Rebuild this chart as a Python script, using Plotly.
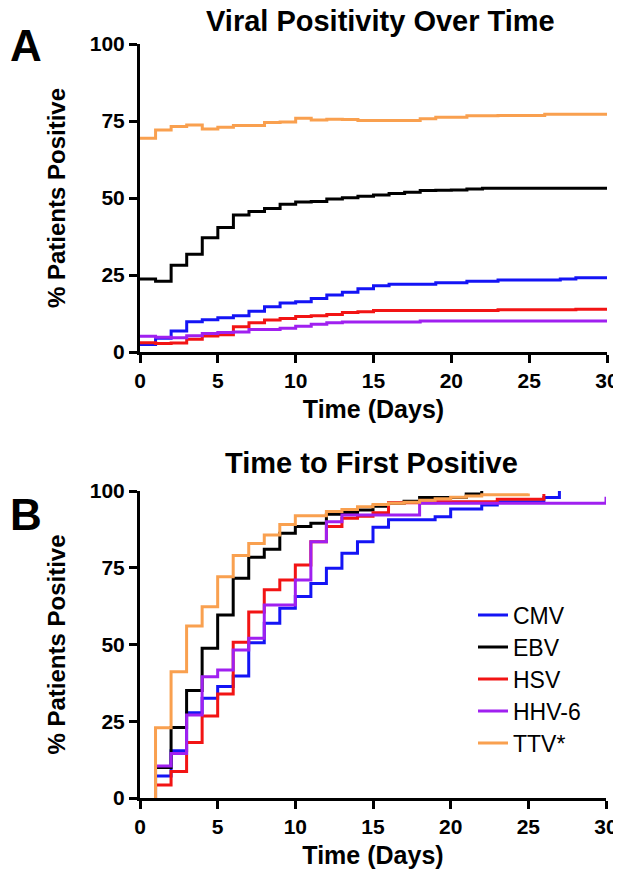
import plotly.graph_objects as go

# window is 621x876; the page body has an 8px margin, so the figure is sized to fit inside it
WIN_OFF = 8
W, H = 613, 868

# ---------------- data ----------------
virus_names = ["CMV", "EBV", "HSV", "HHV-6", "TTV*"]
virus_colors = ["#1414f5", "#000000", "#f21414", "#a020f0", "#f9a04f"]

# Panel A: % positive by day (0..30)
days_A = list(range(0, 31))
cmv_A = [2.4, 4.5, 6.8, 9.8, 10.5, 11.1, 11.8, 13.2, 14.7, 15.9, 16.3, 17.4, 18.5, 19.4, 20.5, 21.5,
         22.0, 22.0, 22.0, 22.5, 22.5, 23.0, 23.0, 23.4, 23.4, 23.4, 23.4, 23.7, 24.1, 24.1, 24.1]
ebv_A = [23.7, 23.0, 28.2, 31.7, 37.1, 40.4, 44.5, 45.6, 46.6, 48.0, 48.7, 48.9, 49.7, 50.1, 50.6, 51.0,
         51.5, 51.9, 52.4, 52.5, 52.6, 52.9, 53.2, 53.2, 53.2, 53.2, 53.2, 53.2, 53.2, 53.2, 53.2]
hsv_A = [3.0, 2.8, 2.9, 4.1, 5.2, 5.6, 8.2, 9.5, 10.4, 10.9, 11.5, 11.8, 12.2, 12.8, 13.1, 13.5,
         13.5, 13.5, 13.5, 13.5, 13.5, 13.5, 13.5, 13.7, 13.7, 13.7, 13.7, 13.7, 13.9, 13.9, 13.9]
hhv6_A = [5.1, 4.8, 4.6, 5.3, 6.0, 6.3, 6.5, 7.3, 7.3, 7.7, 8.4, 9.0, 9.5, 9.7, 9.7, 9.7,
          9.7, 9.7, 10.1, 10.1, 10.1, 10.1, 10.1, 10.1, 10.1, 10.1, 10.1, 10.1, 10.1, 10.1, 10.1]
ttv_A = [69.4, 72.1, 73.2, 73.7, 72.4, 73.0, 73.5, 73.5, 74.5, 74.7, 75.9, 75.3, 75.6, 75.5, 75.2, 75.2,
         75.2, 75.2, 75.7, 76.2, 76.2, 76.7, 76.7, 76.8, 76.8, 76.8, 77.2, 77.2, 77.2, 77.2, 77.2]

# Panel B: cumulative % with first positive (starts at 0 on day 1)
cmv_days_B = [1] + list(range(1, 28))
cmv_B = [0, 7.2, 15.4, 27.8, 32.5, 36.3, 39.7, 50.6, 56.9, 61.8, 65.6, 69.9, 74.8, 79.7, 83.5, 88.2,
         90.6, 90.6, 90.6, 91.6, 94.1, 94.1, 95.4, 96.5, 96.5, 96.5, 97.9, 100.0]
ebv_days_B = [1] + list(range(1, 23))
ebv_B = [0, 9.9, 23.0, 35.0, 48.8, 59.6, 71.6, 78.4, 81.0, 86.2, 88.4, 89.5, 92.4, 93.0, 93.8, 95.0,
         96.0, 96.7, 97.9, 97.9, 97.9, 99.0, 100.0]
hsv_days_B = [1] + list(range(1, 27))
hsv_B = [0, 4.2, 8.6, 18.1, 26.7, 33.9, 50.7, 60.6, 67.8, 71.0, 75.9, 83.5, 88.4, 91.1, 91.8, 92.9,
         96.2, 96.2, 96.2, 96.5, 96.5, 96.5, 96.5, 97.3, 97.3, 97.3, 99.0]
hhv6_days_B = [1] + list(range(1, 31))
hhv6_B = [0, 10.4, 14.5, 27.0, 39.5, 41.7, 48.2, 52.0, 62.9, 62.9, 71.0, 83.5, 90.0, 92.2, 92.2, 92.2,
          92.2, 92.2, 96.0, 96.0, 96.0, 96.0, 96.0, 96.0, 96.0, 96.0, 96.0, 96.0, 96.0, 96.0, 98.1]
ttv_days_B = [1] + list(range(1, 26))
ttv_B = [0, 22.9, 41.1, 56.0, 62.3, 72.1, 79.0, 82.9, 85.7, 89.1, 91.9, 91.9, 93.3, 94.0, 94.9, 95.6,
         96.0, 96.3, 97.0, 97.5, 98.0, 98.4, 98.8, 98.8, 98.8, 99.2]

x_ticks = [0, 5, 10, 15, 20, 25, 30]
y_ticks = [0, 25, 50, 75, 100]

series_A = [cmv_A, ebv_A, hsv_A, hhv6_A, ttv_A]
series_B = [(cmv_days_B, cmv_B), (ebv_days_B, ebv_B), (hsv_days_B, hsv_B),
            (hhv6_days_B, hhv6_B), (ttv_days_B, ttv_B)]

# ---------------- figure ----------------
FONT = "Liberation Sans, Arial, sans-serif"
fig = go.Figure()


def px_x(p):
    return (p - WIN_OFF) / W


def px_y(p):
    return 1 - (p - WIN_OFF) / H


for name, col, ys in zip(virus_names, virus_colors, series_A):
    fig.add_trace(go.Scatter(x=days_A, y=ys, mode="lines", line=dict(color=col, width=3, shape="hv"),
                             name=name, showlegend=False, xaxis="x", yaxis="y", hoverinfo="skip"))

legend_ids = ["legend", "legend2", "legend3", "legend4", "legend5"]
for i, (name, col, (xs, ys)) in enumerate(zip(virus_names, virus_colors, series_B)):
    fig.add_trace(go.Scatter(x=xs, y=ys, mode="lines", line=dict(color=col, width=3, shape="hv"),
                             name=name, showlegend=True, legend=legend_ids[i],
                             xaxis="x2", yaxis="y2"))

axis_common = dict(showline=True, linewidth=3, linecolor="black", ticks="outside", ticklen=8,
                   tickwidth=3, tickcolor="black", showgrid=False, zeroline=False,
                   tickfont=dict(family=FONT, size=21, color="black", weight="bold"),
                   ticklabeloverflow="allow",
                   automargin=False, fixedrange=True)

xa = dict(axis_common, range=[0, 30], tickvals=x_ticks,
          title=dict(text="Time (Days)", font=dict(family=FONT, size=25, color="black", weight="bold"),
                     standoff=10))
ya = dict(axis_common, range=[0, 100], tickvals=y_ticks,
          title=dict(text="% Patients Positive", font=dict(family=FONT, size=24, color="black", weight="bold"),
                     standoff=18))

legend_rows = [615, 647, 679, 711, 743]
legend_layout = {}
for lid, row in zip(legend_ids, legend_rows):
    legend_layout[lid] = dict(x=px_x(473), y=px_y(row), xanchor="left", yanchor="middle",
                              font=dict(family=FONT, size=23, color="black"),
                              bgcolor="rgba(0,0,0,0)", itemwidth=30)

fig.update_layout(
    width=W, height=H,
    margin=dict(l=0, r=0, t=0, b=0),
    paper_bgcolor="white", plot_bgcolor="white",
    xaxis=dict(xa, domain=[px_x(140), px_x(607)], anchor="y"),
    yaxis=dict(ya, domain=[px_y(352), px_y(44)], anchor="x"),
    xaxis2=dict(xa, domain=[px_x(140), px_x(606)], anchor="y2"),
    yaxis2=dict(ya, domain=[px_y(798), px_y(491)], anchor="x2"),
    showlegend=True,
    **legend_layout,
)

annots = [
    dict(text="Viral Positivity Over Time", x=px_x(380), y=px_y(21), size=29),
    dict(text="Time to First Positive", x=px_x(371), y=px_y(463), size=29),
    dict(text="A", x=px_x(26), y=px_y(45), size=44),
    dict(text="B", x=px_x(26), y=px_y(514), size=44),
]
for a in annots:
    fig.add_annotation(text=a["text"], x=a["x"], y=a["y"], xref="paper", yref="paper",
                       xanchor="center", yanchor="middle", showarrow=False,
                       font=dict(family=FONT, size=a["size"], color="black", weight="bold"))

fig.write_html("out.html")
